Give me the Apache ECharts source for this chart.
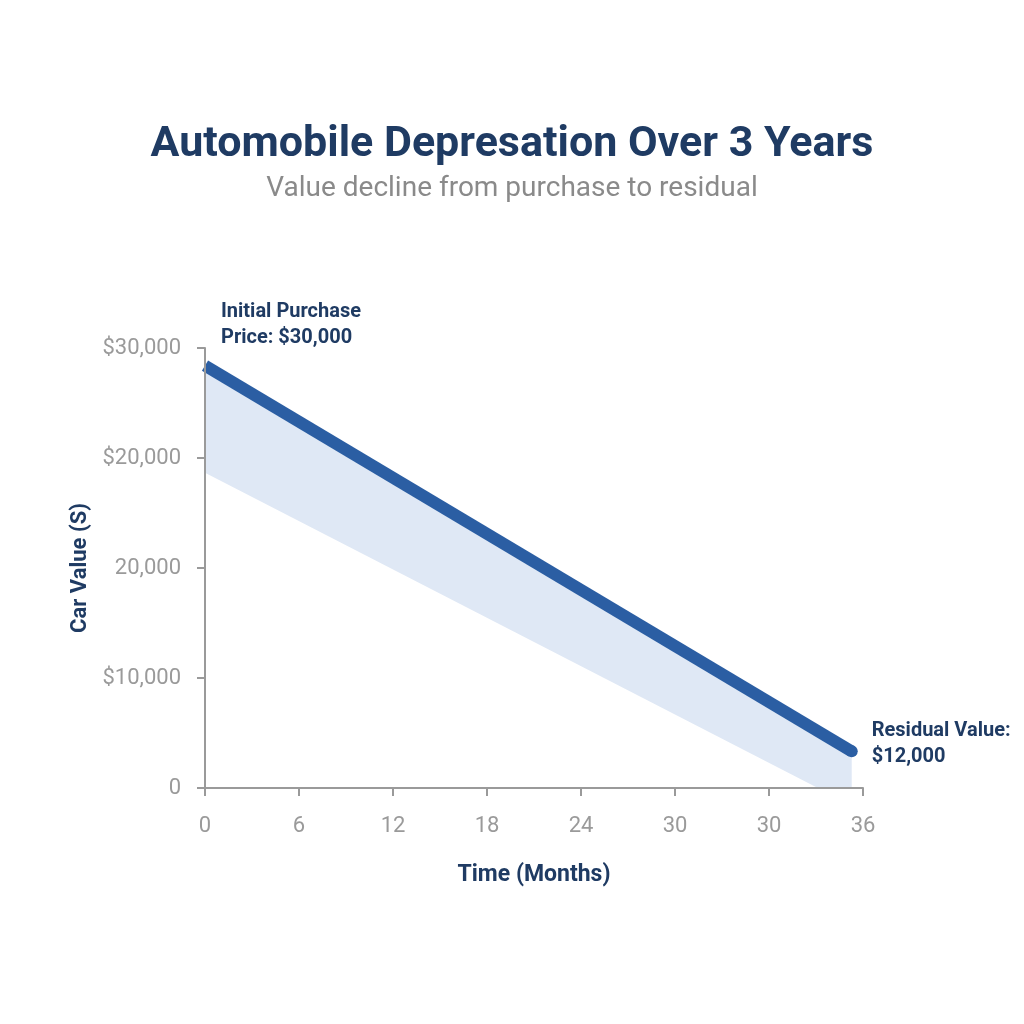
<html>
<head>
  <meta charset="utf-8">
  <title>Automobile Depresation</title>
  <script type="text/javascript" src="https://cdn.jsdelivr.net/npm/echarts@6/dist/echarts.min.js"></script>
  <style>body{margin:0;background:#fff;}</style>
</head>
<body>
<div id="chartmain" style="width:1024px; height:1024px;"></div>
<script type="text/javascript">
  // tick labels as printed in the picture (they are not evenly valued)
  let xTicks = ['0', '6', '12', '18', '24', '30', '30', '36'];
  let yTicks = ['0', '$10,000', '20,000', '$20,000', '$30,000'];
  // value line, x in tick-slot units
  let valueLine = [[0, 28800], [6.88, 2500]];
  // lower edge of the shaded band
  let bandLower = [[0, 21500], [6.52, 0]];
  let startLabel = 'Initial Purchase\nPrice: $30,000';
  let endLabel = 'Residual Value:\n$12,000';

  let navy = '#1f3b63';
  let grey = '#9a9a9a';
  let blue = '#2b5ea3';

  let option = {
    backgroundColor: '#ffffff',
    title: {
      text: 'Automobile Depresation Over 3 Years',
      subtext: 'Value decline from purchase to residual',
      left: 'center',
      top: 119,
      itemGap: 8,
      textStyle: { fontFamily: 'Roboto', fontSize: 43, fontWeight: 'bold', color: navy },
      subtextStyle: { fontFamily: 'Roboto', fontSize: 28, color: '#8a8a8a' }
    },
    grid: { left: 205, right: 161, top: 348, bottom: 236 },
    xAxis: {
      type: 'value',
      min: 0,
      max: 7,
      interval: 1,
      z: 5,
      name: 'Time (Months)',
      nameLocation: 'middle',
      nameGap: 76,
      nameTextStyle: { fontFamily: 'Roboto', fontSize: 23, fontWeight: 'bold', color: navy },
      axisLine: { lineStyle: { color: grey, width: 2 } },
      axisTick: { show: true, length: 8, lineStyle: { color: grey, width: 2 } },
      axisLabel: {
        margin: 27, fontFamily: 'Roboto', fontSize: 22, color: grey,
        formatter: function (v) { return xTicks[Math.round(v)]; }
      },
      splitLine: { show: false }
    },
    yAxis: {
      type: 'value',
      min: 0,
      max: 30000,
      interval: 7500,
      z: 5,
      name: 'Car Value (S)',
      nameLocation: 'middle',
      nameGap: 113,
      nameTextStyle: { fontFamily: 'Roboto', fontSize: 22, fontWeight: 'bold', color: navy },
      axisLine: { show: true, lineStyle: { color: grey, width: 2 } },
      axisTick: { show: true, length: 8, lineStyle: { color: grey, width: 2 } },
      axisLabel: {
        margin: 24, fontFamily: 'Roboto', fontSize: 22, color: grey,
        formatter: function (v) { return yTicks[Math.round(v / 7500)]; }
      },
      splitLine: { show: false }
    },
    series: [
      {
        type: 'line',
        data: [
          valueLine[0],
          { value: valueLine[1], symbol: 'circle', symbolSize: 12, itemStyle: { color: blue } }
        ],
        symbol: 'none',
        z: 3,
        lineStyle: { color: blue, width: 12, cap: 'butt' },
        areaStyle: { color: '#dfe8f5', opacity: 1 },
        markPoint: {
          symbol: 'circle',
          symbolSize: 0,
          label: {
            show: true,
            position: 'right',
            distance: 0,
            fontFamily: 'Roboto',
            fontSize: 20,
            fontWeight: 'bold',
            lineHeight: 26,
            align: 'left',
            color: navy
          },
          data: [
            { coord: valueLine[0], label: { formatter: startLabel, offset: [16, -41] } },
            { coord: valueLine[1], label: { formatter: endLabel, offset: [20, -7] } }
          ]
        }
      },
      {
        type: 'line',
        data: bandLower,
        symbol: 'none',
        z: 4,
        lineStyle: { width: 0 },
        areaStyle: { color: '#ffffff', opacity: 1 }
      }
    ]
  };
  let myChart = echarts.init(document.getElementById('chartmain'));
  myChart.setOption(option);
</script>
</body>
</html>
